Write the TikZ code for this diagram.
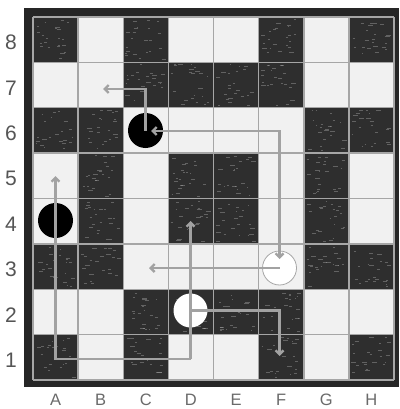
\documentclass[tikz,border=0pt]{standalone}
\usepackage{fontspec}
\setmainfont{Liberation Sans}
\usetikzlibrary{arrows.meta}
\definecolor{framecol}{HTML}{262626}
\definecolor{sqdark}{HTML}{2E2E2E}
\definecolor{sqlight}{HTML}{F1F1F1}
\definecolor{gridcol}{HTML}{A6A6A6}
\definecolor{movecol}{HTML}{A2A2A2}
\definecolor{digitcol}{HTML}{555555}
\definecolor{lettercol}{HTML}{6A6A6A}
\begin{document}
\begin{tikzpicture}[x=1pt,y=-1pt,
  darksq/.style={fill=sqdark},
  gridline/.style={draw=gridcol,line width=1.5pt},
  blackpiece/.style={circle,fill=black,minimum size=35pt,inner sep=0pt},
  whitepiece/.style={circle,fill=white,draw=gridcol,line width=0.8pt,minimum size=34pt,inner sep=0pt},
  move/.style={draw=movecol,line width=2.4pt,line join=miter,-{Straight Barb[length=4pt,width=8pt]}},
  rankl/.style={text=digitcol,font=\fontsize{21}{21}\selectfont,inner sep=0pt},
  filel/.style={text=lettercol,font=\fontsize{16.5}{16.5}\selectfont,inner sep=0pt,anchor=base},
  streak/.style={draw=gray!60,line width=0.45pt,opacity=0.4}
]
\useasboundingbox (0,0) rectangle (399,409);
\fill[white] (0,0) rectangle (399,409);
\def\cw{45.125}
\def\rh{45.375}
% frame and board
\fill[framecol] (24,8) rectangle (399,387);
\fill[sqlight] (33,17) rectangle (394,380);
\pgfmathsetseed{11}
\foreach \j/\i in {0/0,0/2,0/5,0/7, 1/2,1/3,1/4,1/5, 2/0,2/1,2/6,2/7, 3/1,3/3,3/4,3/6,
                   4/1,4/3,4/4,4/6, 5/0,5/1,5/6,5/7, 6/2,6/3,6/4,6/5, 7/0,7/2,7/5,7/7}{
  \pgfmathsetmacro{\xa}{33+\i*\cw}
  \pgfmathsetmacro{\ya}{17+\j*\rh}
  \fill[darksq] (\xa,\ya) rectangle ++(\cw,\rh);
  \foreach \k in {1,...,22}{
    \pgfmathsetmacro{\sx}{\xa+2+rnd*37}
    \pgfmathsetmacro{\sy}{\ya+2+rnd*41}
    \pgfmathsetmacro{\sl}{1+rnd*4}
    \draw[streak] (\sx,\sy) -- ++(\sl,0);
  }
}
% grid
\foreach \i in {0,...,8}{
  \draw[gridline] ({33+\i*\cw},17) -- ({33+\i*\cw},380);
  \draw[gridline] (33,{17+\i*\rh}) -- (394,{17+\i*\rh});
}
% labels
\foreach \n [count=\k from 0] in {8,7,6,5,4,3,2,1}{
  \node[rankl] (rank\n) at (11,{17+(\k+0.5)*\rh+3}) {\n};
}
\foreach \L [count=\k from 0] in {A,B,C,D,E,F,G,H}{
  \node[filel] (file\L) at ({33+(\k+0.5)*\cw},405) {\L};
}
% pieces
\node[blackpiece] (pc6) at (145.5,130.5) {};
\node[blackpiece] (pa4) at (55.5,220.5) {};
\node[whitepiece,draw=none] (pd2) at (190.5,310.5) {};
\node[whitepiece] (pf3) at (279.5,268) {};
% move endpoints
\coordinate (b7) at (103,89);
\coordinate (c6tip) at (151,131);
\coordinate (f3tip) at (279.5,259);
\coordinate (c3) at (149,268);
\coordinate (d1) at (190.5,359);
\coordinate (d4) at (190.5,221);
\coordinate (a5) at (55.5,176);
\coordinate (f1) at (279.5,356);
% moves
\draw[move] (pc6.center) |- (b7);
\draw[move,{Straight Barb[length=4pt,width=8pt]}-{Straight Barb[length=4pt,width=8pt]}] (c6tip) -| (f3tip);
\draw[move] (pf3.center) -- (c3);
\draw[move] (d1) -- (d4);
\draw[move] (d1) -| (a5);
\draw[move] (pd2.center) -| (f1);
\end{tikzpicture}
\end{document}
